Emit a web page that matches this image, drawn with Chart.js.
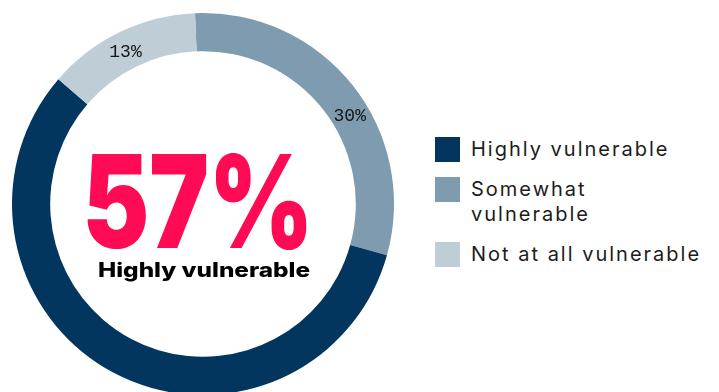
<!DOCTYPE html>
<html>
<head>
<meta charset="utf-8">
<script src="https://cdn.jsdelivr.net/npm/chart.js@4"></script>
<style>
  html, body { margin: 0; padding: 0; background: #fff; overflow: hidden; }
  body { width: 719px; height: 392px; position: relative; font-family: Inter, "Noto Sans", sans-serif; }
  #ringBox { position: absolute; left: 12px; top: 13px; width: 382px; height: 382px; }
  #legend { position: absolute; left: 435px; top: 137px; }
  .item { display: flex; align-items: flex-start; margin-bottom: 15px; }
  .swatch { width: 25px; height: 25px; flex: none; margin-right: 11px; }
  .label { font-size: 20px; line-height: 25px; letter-spacing: 2px; color: #1c1c1c; }
</style>
</head>
<body>
<div id="ringBox"><canvas id="vulnChart"></canvas></div>
<div id="legend"></div>
<script>
var categories = ["Highly vulnerable", "Somewhat vulnerable", "Not at all vulnerable"];
var legendLines = [["Highly vulnerable"], ["Somewhat", "vulnerable"], ["Not at all vulnerable"]];
var shares = [57, 30, 13];
var showLabel = [false, true, true];
var colors = ["#03365f", "#7f9bb0", "#bfcdd7"];
// slices go clockwise from the top: somewhat, highly, not at all
var ringOrder = [1, 0, 2];

var headline = shares[0] + "%";
var headlineCaption = categories[0];

var ringData = ringOrder.map(function (i) { return shares[i]; });
var ringColors = ringOrder.map(function (i) { return colors[i]; });

// Percentage text sitting inside the ring
var ringLabels = {
    id: 'ringLabels',
    afterDatasetsDraw: function (chart, args, opts) {
        var ctx = chart.ctx;
        var arcs = chart.getDatasetMeta(0).data;
        ctx.save();
        ctx.font = '18px "Liberation Mono", "DejaVu Sans Mono", monospace';
        ctx.fillStyle = '#151515';
        ctx.textAlign = 'center';
        ctx.textBaseline = 'middle';
        arcs.forEach(function (arc, k) {
            var i = ringOrder[k];
            if (!showLabel[i]) return;
            var p = arc.getProps(['x', 'y', 'startAngle', 'endAngle', 'innerRadius', 'outerRadius'], true);
            var a = (p.startAngle + p.endAngle) / 2 + opts.shift[i] * Math.PI / 180;
            var r = (p.innerRadius + p.outerRadius) / 2;
            ctx.fillText(shares[i] + '%', p.x + Math.cos(a) * r, p.y + Math.sin(a) * r + 2);
        });
        ctx.restore();
    }
};

// Squeeze or stretch a line of text to a given width
function fitText(ctx, text, x, y, width) {
    var w = ctx.measureText(text).width;
    ctx.save();
    ctx.translate(x, y);
    ctx.scale(width / w, 1);
    ctx.fillText(text, 0, 0);
    ctx.restore();
}

// Big number and caption in the hole
var centerText = {
    id: 'centerText',
    afterDraw: function (chart) {
        var ctx = chart.ctx;
        var arc = chart.getDatasetMeta(0).data[0];
        var cx = arc.x, cy = arc.y;
        ctx.save();
        ctx.textAlign = 'center';
        ctx.textBaseline = 'alphabetic';
        ctx.fillStyle = '#ff0a54';
        ctx.font = '900 129px Inter, sans-serif';
        fitText(ctx, headline, cx - 5, cy + 44, 231);
        ctx.fillStyle = '#000';
        ctx.font = '800 20px Inter, sans-serif';
        fitText(ctx, headlineCaption, cx + 1, cy + 73, 212);
        ctx.restore();
    }
};

var ctx = document.getElementById('vulnChart').getContext('2d');
var vulnChart = new Chart(ctx, {
    type: 'doughnut',
    data: {
        labels: ringOrder.map(function (i) { return categories[i]; }),
        datasets: [{
            data: ringData,
            backgroundColor: ringColors,
            borderWidth: 0
        }]
    },
    options: {
        responsive: true,
        maintainAspectRatio: false,
        animation: false,
        cutout: '80%',
        rotation: -2.4,
        layout: { padding: 0 },
        plugins: {
            legend: { display: false },
            tooltip: { enabled: false },
            ringLabels: { shift: [0, 7, -1] }
        }
    },
    plugins: [ringLabels, centerText]
});

// HTML legend built from the same categories and colours
var legendBox = document.getElementById('legend');
categories.forEach(function (name, i) {
    var item = document.createElement('div');
    item.className = 'item';
    var sw = document.createElement('div');
    sw.className = 'swatch';
    sw.style.background = colors[i];
    var lab = document.createElement('div');
    lab.className = 'label';
    lab.innerHTML = legendLines[i].join('<br>');
    item.appendChild(sw);
    item.appendChild(lab);
    legendBox.appendChild(item);
});
</script>
</body>
</html>
